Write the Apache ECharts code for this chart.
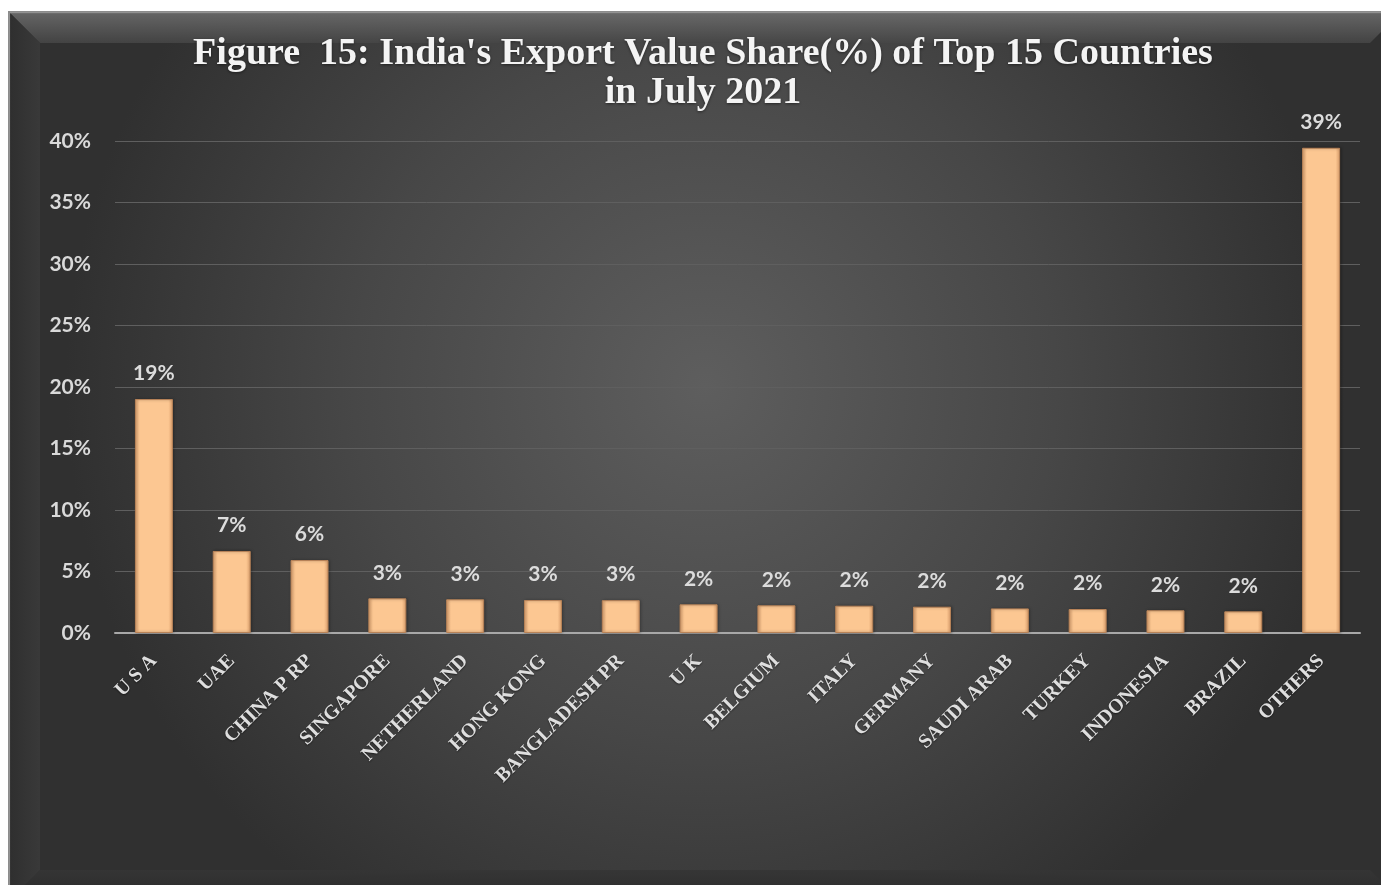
<!DOCTYPE html>
<html>
<head>
<meta charset="utf-8">
<script src="https://cdn.jsdelivr.net/npm/echarts@6/dist/echarts.min.js"></script>
<style>html,body{margin:0;padding:0;background:#fff;}#c{width:1381px;height:885px;}</style>
</head>
<body>
<div id="c"></div>
<script>
var categories = ['U S A','UAE','CHINA P RP','SINGAPORE','NETHERLAND','HONG KONG','BANGLADESH PR','U K','BELGIUM','ITALY','GERMANY','SAUDI ARAB','TURKEY','INDONESIA','BRAZIL','OTHERS'];
var shareValues = [19.02, 6.67, 5.93, 2.82, 2.74, 2.68, 2.67, 2.33, 2.25, 2.22, 2.14, 2.0, 1.95, 1.85, 1.76, 39.45];
var yTicks = {min: 0, max: 40, interval: 5};
var titleLines = ["Figure  15: India's Export Value Share(%) of Top 15 Countries", "in July 2021"];

var chart = echarts.init(document.getElementById('c'), null, {renderer: 'canvas'});
var X0 = 10, Y0 = 13, X1 = 1400, Y1 = 900, B = 30;
chart.setOption({
  backgroundColor: '#ffffff',
  animation: false,
  graphic: [
    {type: 'rect', z: -20, silent: true, shape: {x: X0, y: Y0, width: X1 - X0, height: Y1 - Y0},
     style: {fill: new echarts.graphic.RadialGradient(0.5, 0.42, 0.72, [{offset: 0, color: '#5e5e5e'}, {offset: 0.55, color: '#474747'}, {offset: 1, color: '#303030'}]), stroke: '#9a9a9a', lineWidth: 1}},
    {type: 'polygon', z: -19, silent: true, shape: {points: [[X0, Y0], [X1, Y0], [X1 - B, Y0 + B], [X0 + B, Y0 + B]]},
     style: {fill: new echarts.graphic.LinearGradient(0, 0, 0, 1, [{offset: 0, color: '#6e6e6e'}, {offset: 1, color: '#464646'}]), opacity: 0.85}},
    {type: 'polygon', z: -19, silent: true, shape: {points: [[X0, Y0], [X0 + B, Y0 + B], [X0 + B, Y1 - B], [X0, Y1]]},
     style: {fill: new echarts.graphic.LinearGradient(0, 0, 1, 0, [{offset: 0, color: '#2f2f2f'}, {offset: 1, color: '#3a3a3a'}]), opacity: 0.9}},
    {type: 'polygon', z: -19, silent: true, shape: {points: [[X0, Y1], [X0 + B, Y1 - B], [X1 - B, Y1 - B], [X1, Y1]]},
     style: {fill: new echarts.graphic.LinearGradient(0, 0, 0, 1, [{offset: 0, color: '#353535'}, {offset: 1, color: '#2a2a2a'}]), opacity: 0.9}},
    {type: 'rect', z: -21, silent: true, shape: {x: X0 - 1, y: Y0 - 1, width: X1 - X0 + 2, height: Y1 - Y0 + 2},
     style: {fill: 'none', stroke: '#8c8c8c', lineWidth: 2}}
  ],
  title: {
    text: titleLines.join('\n'),
    left: 698,
    textAlign: 'center',
    top: 30,
    textStyle: {
      fontFamily: 'Liberation Serif',
      fontWeight: 'bold',
      fontSize: 38,
      lineHeight: 39,
      color: '#f4f4f4',
      textShadowColor: 'rgba(0,0,0,0.5)',
      textShadowBlur: 3,
      textShadowOffsetY: 1
    }
  },
  grid: {left: 115, right: 21, top: 141, bottom: 252, containLabel: false},
  xAxis: {
    type: 'category',
    data: categories,
    axisTick: {show: false},
    axisLine: {show: true, lineStyle: {color: '#a8a8a8', width: 2}},
    axisLabel: {
      rotate: 45,
      interval: 0,
      margin: 25,
      fontFamily: 'Liberation Serif',
      fontWeight: 'bold',
      fontSize: 20,
      color: '#dedede',
      textShadowColor: 'rgba(0,0,0,0.5)',
      textShadowBlur: 2,
      textShadowOffsetY: 1
    }
  },
  yAxis: {
    type: 'value',
    min: yTicks.min,
    max: yTicks.max,
    interval: yTicks.interval,
    axisLine: {show: false},
    axisTick: {show: false},
    splitLine: {lineStyle: {color: '#5f5f5f', width: 1}},
    axisLabel: {
      formatter: '{value}%',
      margin: 24,
      fontFamily: 'Lato',
      fontWeight: 'bold',
      fontSize: 21,
      color: '#d9d9d9'
    }
  },
  series: [{
    type: 'bar',
    data: shareValues,
    barWidth: 38,
    itemStyle: {
      color: new echarts.graphic.LinearGradient(0, 0, 1, 0, [
        {offset: 0, color: '#e4a773'},
        {offset: 0.12, color: '#fcc792'},
        {offset: 0.88, color: '#fcc792'},
        {offset: 1, color: '#dc9f6c'}
      ]),
      borderColor: '#b88358',
      borderWidth: 1,
      shadowColor: 'rgba(0,0,0,0.35)',
      shadowBlur: 3,
      shadowOffsetX: 1
    },
    label: {
      show: true,
      position: 'top',
      distance: 15,
      formatter: function (p) { return Math.round(p.value) + '%'; },
      fontFamily: 'Lato',
      fontWeight: 'bold',
      fontSize: 21,
      color: '#dcdcdc'
    }
  }]
});
</script>
</body>
</html>
